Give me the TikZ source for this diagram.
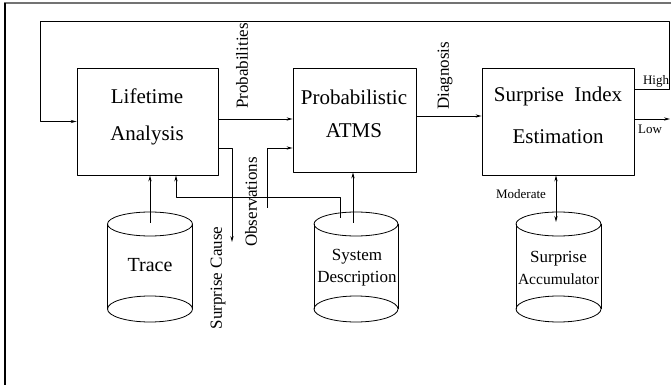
\documentclass[tikz,border=0pt]{standalone}
\usepackage{fontspec}
\setmainfont{Liberation Serif}
\usetikzlibrary{arrows.meta}

\begin{document}
\begin{tikzpicture}[x=1pt,y=-1pt,line join=round,line width=0.8pt,>={Stealth[length=6pt,width=3.2pt]}]
            \tikzset{box/.style={draw,inner sep=0pt},
                boxtext/.style={font=\fontsize{21}{25}\selectfont,align=center},
                flowtext/.style={font=\fontsize{17}{20}\selectfont,rotate=90},
                smalltext/.style={font=\fontsize{13}{15}\selectfont}}
            \useasboundingbox (0,0) rectangle (671,387);
            \draw[black!55,line width=2pt] (4,3.5) -- (671,3.5);
            \draw[line width=1.2pt] (5,3) -- (5,385);
            % process boxes
            \node[box,minimum width=141,minimum height=107] (life) at (147.5,121.5) {};
            \node[box,minimum width=123,minimum height=104] (atms) at (354.5,120) {};
            \node[box,minimum width=152,minimum height=107] (est) at (558,121.5) {};
            \node[boxtext] (lifetxt) at (147,117) {Lifetime\\[12pt]Analysis};
            \node[boxtext] (atmstxt) at (354,114) {Probabilistic\\[8pt]ATMS};
            \node[boxtext] (esttxt) at (558,115) {Surprise\ \ Index\\[17pt]Estimation};
            % data stores
            \draw (107,224) -- (107,309) (192,224) -- (192,309);
            \draw (150,224) ellipse [x radius=42.5,y radius=12] (150,309) ellipse [x radius=42.5,y radius=13];
            \draw (314,224) -- (314,309) (398,224) -- (398,309);
            \draw (356,224) ellipse [x radius=42,y radius=12] (356,309) ellipse [x radius=42,y radius=13];
            \draw (516,224) -- (516,309) (601,224) -- (601,309);
            \draw (558.5,224) ellipse [x radius=42.5,y radius=12] (558.5,309) ellipse [x radius=42.5,y radius=13];
            \node[font=\fontsize{20}{24}\selectfont] (trace) at (150,265) {Trace};
            \node[font=\fontsize{17}{22}\selectfont,align=center] (sysdesc) at (357,268) {System\\Description};
            \node[font=\fontsize{17}{22}\selectfont,align=center] (accum) at (558.5,268) {Surprise\\\fontsize{15.5}{18}\selectfont Accumulator};
            \coordinate (tracetop) at (150,223);
            \coordinate (sdtopa) at (340,218);
            \coordinate (sdtopb) at (353,223);
            \coordinate (acctop) at (556,222);
            % flows
            \draw[->] (life.east |- 0,119) -- (atms.west |- 0,119);
            \draw[->] (atms.east |- 0,116) -- (est.west |- 0,116);
            \coordinate (fbr) at (669,21);
            \coordinate (fbl) at (40,21);
            \draw[->] (est.east |- 0,89) -| (fbr) -- (fbl) |- (life.west);
            \coordinate (lowend) at (670,119);
            \draw[->] (est.east |- lowend) -- (lowend);
            \coordinate (causeend) at (232,242);
            \draw[->] (life.east |- 0,148) -| (causeend);
            \coordinate (obsstart) at (267,208);
            \draw[->] (obsstart) |- (atms.west |- 0,148);
            \draw[->] (sdtopa) |- (176,197) -- (life.south -| 176,0);
            \draw[->] (tracetop) -- (tracetop |- life.south);
            \draw[->] (sdtopb) -- (sdtopb |- atms.south);
            \draw[<->] (acctop) -- (acctop |- est.south);
            % labels
            \node[flowtext] (problabel) at (242,66) {Probabilities};
            \node[flowtext] (diaglabel) at (445,76) {Diagnosis};
            \node[flowtext] (causelabel) at (218,278) {Surprise Cause};
            \node[flowtext] (obslabel) at (251,202) {Observations};
            \node[smalltext] (highlabel) at (656,81) {High};
            \node[smalltext] (lowlabel) at (650,129) {Low};
            \node[smalltext] (modlabel) at (521,194) {Moderate};
        \end{tikzpicture}
\end{document}
